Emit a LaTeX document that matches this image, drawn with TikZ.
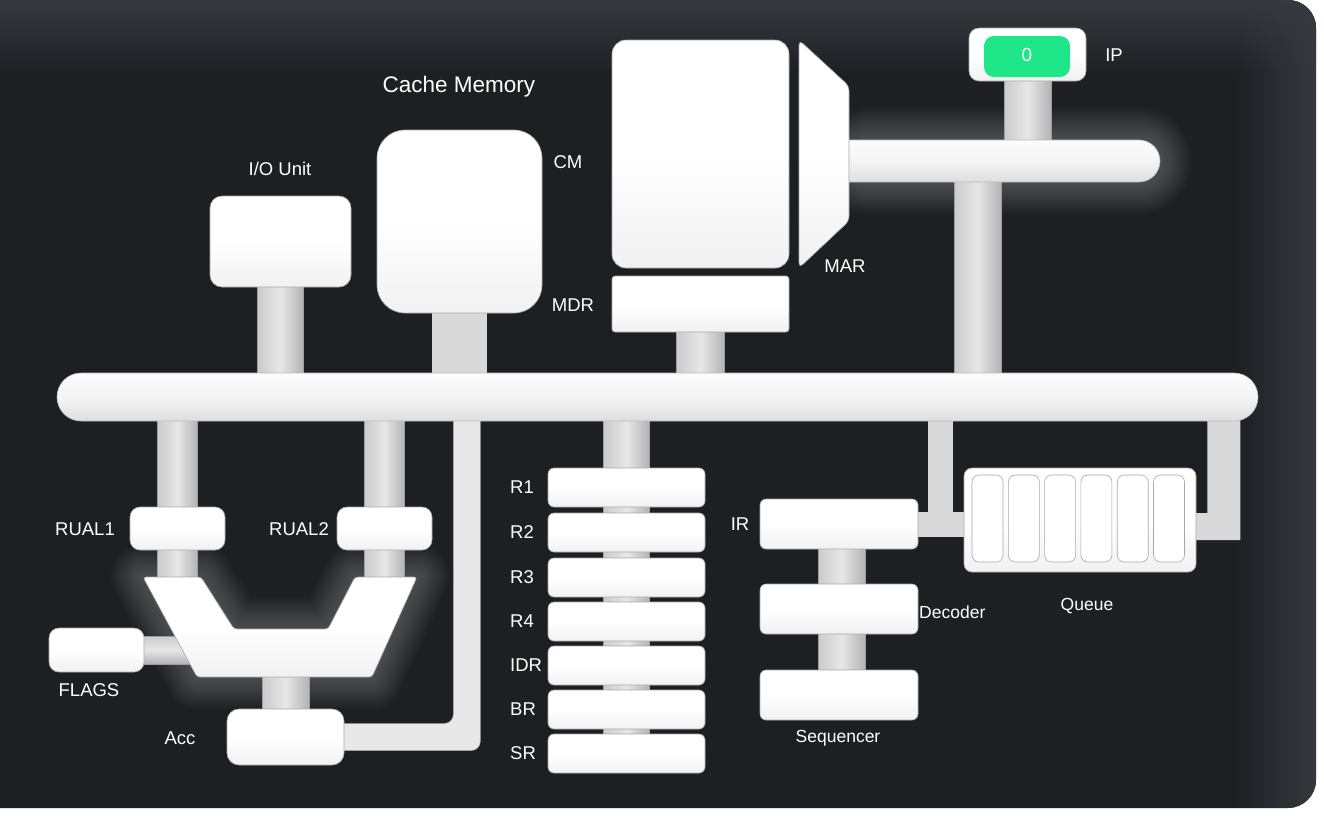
\documentclass[tikz,border=0pt]{standalone}
\usepackage{fontspec}
\setmainfont{Liberation Sans}
\usetikzlibrary{calc,fadings}
\definecolor{panel}{HTML}{1D1F23}
\definecolor{panelhi}{HTML}{363A3F}
\definecolor{boxedge}{HTML}{A8A8A8}
\definecolor{boxlow}{HTML}{F1F1F1}
\definecolor{pipeL}{HTML}{CBCBCB}
\definecolor{pipeM}{HTML}{E7E7E7}
\definecolor{pipeR}{HTML}{B3B3B3}
\definecolor{pipeflat}{HTML}{D9D9D9}
\definecolor{pipeedge}{HTML}{9E9E9E}
\definecolor{lpipe}{HTML}{E8E8E8}
\definecolor{busT}{HTML}{FCFCFC}
\definecolor{busM}{HTML}{F4F4F4}
\definecolor{busB}{HTML}{DEDEDE}
\definecolor{ipgreen}{HTML}{20E68A}
\tikzfading[name=fadedown, top color=transparent!0, bottom color=transparent!100]
\tikzfading[name=faderight, left color=transparent!100, right color=transparent!0]
\pgfdeclarelayer{back}
\pgfdeclarelayer{glowl}
\pgfdeclarelayer{pipel}
\pgfsetlayers{back,glowl,pipel,main}
\begin{document}
\begin{tikzpicture}[x=1pt,y=-1pt,
  box/.style={draw=boxedge, line width=0.6pt, top color=white, bottom color=boxlow, middle color=white, inner sep=0pt},
  busbar/.style={draw=boxedge!80, line width=0.6pt, top color=busT, bottom color=busB, middle color=busM, inner sep=0pt},
  vpipe/.style={draw=pipeedge, line width=0.5pt, left color=pipeL, right color=pipeR, middle color=pipeM},
  hpipe/.style={draw=pipeedge, line width=0.5pt, top color=pipeL, bottom color=pipeR, middle color=pipeM},
  flatpipe/.style={fill=pipeflat},
  lbl/.style={text=white, font=\fontsize{18.5}{21}\selectfont, inner sep=0pt},
  glowline/.style={draw=white, opacity=0.017, line join=round},
  reg/.style={box, minimum width=157, minimum height=39, rounded corners=6},
  ctl/.style={box, minimum width=158, minimum height=50, rounded corners=6},
  cell/.style={draw=boxedge, line width=0.6pt, fill=white, minimum width=31, minimum height=87, rounded corners=7, inner sep=0pt}
]
\useasboundingbox (0,0) rectangle (1324,815);

% ---------- background ----------
\begin{pgfonlayer}{back}
\fill[white] (0,0) rectangle (1324,815);
\begin{scope}
\clip[rounded corners=28] (-40,0) rectangle (1316,808);
\fill[panel] (0,0) rectangle (1324,815);
\fill[panelhi, path fading=fadedown] (0,0) rectangle (1324,75);
\fill[panelhi, path fading=faderight] (1235,0) rectangle (1316,808);
\end{scope}
\end{pgfonlayer}

% ---------- upper part ----------
\node[box, minimum width=141, minimum height=91, rounded corners=12] (io) at (280.5,241.5) {};
\node[lbl] (iolbl) at (280,169) {I/O Unit};
\node[box, minimum width=165, minimum height=183, rounded corners=28] (cm) at (459.5,221.5) {};
\node[lbl, font=\fontsize{22.5}{26}\selectfont] (cmtitle) at (459,87) {Cache Memory};
\node[lbl] (cmlbl) at (568,162) {CM};
\node[lbl] (mdrlbl) at (573,305) {MDR};
\node[box, minimum width=177, minimum height=228, rounded corners=14] (mem) at (700.5,154) {};
\node[box, minimum width=177, minimum height=56, rounded corners=3] (mdr) at (700.5,304) {};
\node[busbar, minimum width=340, minimum height=42, rounded corners=21] (ipbar) at (990,161) {};
\path[box, rounded corners=5] (799,40) -- (849,86) -- (849,221) -- (799,268) -- cycle;
\coordinate (mar) at (849,161);
\node[lbl] (marlbl) at (845,266) {MAR};
\node[box, minimum width=117, minimum height=53, rounded corners=10] (ipbox) at (1027.5,54.5) {};
\node[fill=ipgreen, minimum width=86, minimum height=41, rounded corners=10, inner sep=0pt, text=white, font=\fontsize{19}{21}\selectfont] (ip) at (1027,56.5) {\raisebox{3pt}{0}};
\node[lbl] (iplbl) at (1114,55) {IP};

% ---------- bus ----------
\node[busbar, minimum width=1201, minimum height=48, rounded corners=24] (bus) at (657.5,397) {};

% ---------- ALU area ----------
\node[box, minimum width=95, minimum height=43, rounded corners=10] (rual1) at (177.5,528.5) {};
\node[lbl] (rual1lbl) at (85,529) {RUAL1};
\node[box, minimum width=95, minimum height=43, rounded corners=10] (rual2) at (384.5,528.5) {};
\node[lbl] (rual2lbl) at (299,529) {RUAL2};
\coordinate (a1) at (143,577);
\coordinate (a2) at (201,577);
\coordinate (a3) at (234,629);
\coordinate (a4) at (328,629);
\coordinate (a5) at (355,577);
\coordinate (a6) at (417,577);
\coordinate (a7) at (372,677);
\coordinate (a8) at (197,677);
\path[box, rounded corners=3] (a1) -- (a2) -- (a3) -- (a4) -- (a5) -- (a6) -- (a7) -- (a8) -- cycle;
\node[box, minimum width=95, minimum height=44, rounded corners=10] (flags) at (96.5,650) {};
\node[lbl] (flagslbl) at (89,690) {FLAGS};
\node[box, minimum width=117, minimum height=56, rounded corners=12] (acc) at (285.5,737) {};
\node[lbl] (acclbl) at (180,738) {Acc};
\coordinate (accbend) at ($(acc.east)+(122.5,0)$);

% ---------- registers ----------
\foreach \n/\y/\t in {r1/487.5/R1, r2/532.5/R2, r3/577.5/R3, r4/621.5/R4, idr/665.5/IDR, br/709.5/BR, sr/753.5/SR}{
  \node[reg] (\n) at (626.5,\y) {};
  \node[lbl, anchor=west] (\n lbl) at (510,\y) {\t};
}

% ---------- control ----------
\node[ctl] (ir) at (839,524) {};
\node[lbl] (irlbl) at (740,524) {IR};
\node[ctl] (dec) at (839,609) {};
\node[lbl, anchor=west, font=\fontsize{17.5}{20}\selectfont] (declbl) at (919,612) {Decoder};
\node[ctl] (seq) at (839,695) {};
\node[lbl, font=\fontsize{17.5}{20}\selectfont] (seqlbl) at (838,738) {Sequencer};

\node[box, minimum width=232, minimum height=104, rounded corners=8] (queue) at (1080,520) {};
\foreach \i in {0,...,5}{
  \node[cell] (q\i) at ({987.5+36.3*\i},518.5) {};
}
\node[lbl, font=\fontsize{17.5}{20}\selectfont] (queuelbl) at (1087,606) {Queue};

% ---------- glow ----------
\begin{pgfonlayer}{glowl}
\foreach \w in {4,8,...,64}{
  \draw[glowline, line width=\w pt] (a1) -- (a2) -- (a3) -- (a4) -- (a5) -- (a6) -- (a7) -- (a8) -- cycle;
  \draw[glowline, line width=\w pt, rounded corners=21] ($(ipbar.north west)+(29,0)$) rectangle (ipbar.south east);
}
\end{pgfonlayer}

% ---------- pipes ----------
\begin{pgfonlayer}{pipel}
\path[vpipe] ($(io.south)+(-23,-3)$) rectangle ($(io.south|-bus.north)+(23,3)$);
\path[flatpipe] ($(cm.south)+(-28,-3)$) rectangle ($(cm.south|-bus.north)+(27,3)$);
\path[vpipe] ($(mdr.south)+(-24,-3)$) rectangle ($(mdr.south|-bus.north)+(24,3)$);
\path[vpipe] ($(ipbox.south)+(-23.5,-3)$) rectangle ($(ipbox.south|-ipbar.north)+(23.5,3)$);
\path[vpipe] ($(ipbar.south)+(-36,-3)$) rectangle ($(ipbar.south|-bus.north)+(11,3)$);
\path[vpipe] ($(rual1|-bus.south)+(-20,-3)$) rectangle ($(rual1|-a1)+(20,8)$);
\path[vpipe] ($(rual2|-bus.south)+(-20,-3)$) rectangle ($(rual2|-a1)+(20,8)$);
\path[vpipe] ($(acc|-a8)+(-23.5,-8)$) rectangle ($(acc.north)+(23.5,3)$);
\path[hpipe] ($(flags.east)+(-3,-14)$) rectangle ($(flags.east)+(60,14)$);
\path[fill=lpipe, draw=pipeedge, line width=0.5pt, rounded corners=9]
  ($(acc.east)+(-10,-13.5)$) -- ($(accbend)+(-13.5,-13.5)$) -- ($(accbend|-bus.center)+(-13.5,0)$)
  -- ($(accbend|-bus.center)+(13.5,0)$) -- ($(accbend)+(13.5,13.5)$) -- ($(acc.east)+(-10,13.5)$) -- cycle;
\path[vpipe] ($(r1|-bus.south)+(-23,-3)$) rectangle ($(sr.center)+(23,0)$);
\path[vpipe] ($(ir.center)+(-21,0)$) rectangle ($(seq.center)+(26,0)$);
\path[flatpipe] ($(ir.east|-bus.south)+(10,-3)$) rectangle ($(ir.east)+(35,12.5)$);
\path[flatpipe] ($(ir.east)+(-5,-12.5)$) rectangle ($(queue.west|-ir.east)+(5,12.5)$);
\path[flatpipe] ($(queue.east)+(-5,-7)$) -- ($(queue.east)+(11,-7)$) -- ($(queue.east|-bus.south)+(11,-3)$)
  -- ($(queue.east|-bus.south)+(44,-3)$) -- ($(queue.east)+(44,20)$) -- ($(queue.east)+(-5,20)$) -- cycle;
\end{pgfonlayer}
\end{tikzpicture}
\end{document}
